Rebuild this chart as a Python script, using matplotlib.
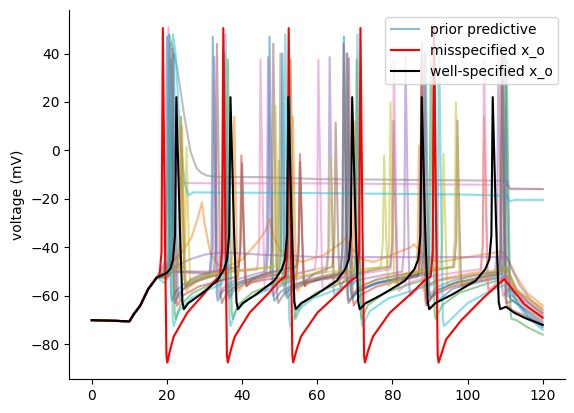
import matplotlib
matplotlib.use("Agg")
import matplotlib.pyplot as plt

# common start of every trace: rest, then current step at 10 ms
onset_t = [0, 10, 11.2, 12.9, 15, 17.3]
onset_v = [-70.0, -70.5, -67.5, -64.0, -57.2, -52.4]

# recovery shapes (fraction of inter-spike time, fraction of trough->pre rise)
shape_fast = [(0.05, 0.14), (0.12, 0.30), (0.38, 0.58), (0.70, 0.80), (0.90, 0.95)]
shape_slow = [(0.10, 0.12), (0.39, 0.30), (0.77, 0.57), (0.93, 0.80)]
shape_prior = [(0.10, 0.35), (0.35, 0.65), (0.70, 0.85), (0.90, 0.95)]

# misspecified x_o
red_spikes = [18.9, 35.0, 52.4, 71.5, 91.1]
red_tail_t = [94.3, 98.2, 104.3, 109.8, 115.1, 120]
red_tail_v = [-78.0, -70.3, -60.7, -53.1, -63.4, -69.0]

# well-specified x_o
black_spikes = [22.5, 36.9, 52.3, 69.3, 87.8, 106.7]
black_start_t = [18.6, 20, 21.0]
black_start_v = [-51.5, -50.5, -48.5]
black_tail_t = [110.2, 112.5, 115.1, 120]
black_tail_v = [-64.5, -67.0, -69.0, -72.0]

# prior predictive samples: spiking ones
blue_spikes = [20.0, 32.2, 47.3, 67.1, 91.0]
blue_tail = ([96, 104, 110.5, 113, 116, 120], [-57, -54, -52, -62, -68, -73])

green_spikes = [21.0, 36.2, 52.9, 70.5, 90.2, 110.4]
green_tail = ([113, 116, 120], [-70, -73, -76])

red_p_spikes = [21.4, 39.8, 55.4, 68.4, 87.7, 109.3]
red_p_peaks = [42, -2, -1.5, 38, 38, 40]
red_p_troughs = [-64, -56, -56, -64, -64, -64]
red_p_tail = ([112, 115, 120], [-66, -68, -72])

purple_spikes = [32.6, 46.9, 63.3, 83.5, 108.2]
purple_start = ([21, 26, 30.5], [-50, -50.5, -51])
purple_tail = ([111, 115, 120], [-57, -62, -67])

brown_spikes = [20.8, 33.3, 48.3, 67.0, 87.9, 109.0]
brown_tail = ([112, 116, 120], [-62, -66, -71])

olive_spikes = [25.2, 49.8, 63.6, 77.8, 93.6]
olive_peaks = [1.3, -4.2, -2.8, -2.1, -1.4]
olive_start = ([20, 23.5], [-49, -48.5])
olive_tail = ([100, 110.5, 113, 116, 120], [-52, -48, -57, -62, -67])

blue2_spikes = [21.8, 35.3, 50.7, 68.0, 88.8, 110.0]
blue2_tail = ([113, 120], [-63, -72])

orange2_spikes = [24.0, 37.9, 53.5, 70.0, 87.1, 104.4]
orange2_peaks = [10, 14, 14, 12, 2, 13.7]
orange2_start = ([21], [-50])
orange2_tail = ([110.5, 113, 120], [-52, -58, -65])

brown2_spikes = [23.7, 40.0, 55.4, 64.9, 80.3, 97.3]
brown2_peaks = [13.7, -5.3, -4.9, 11.5, 12.3, 12.3]
brown2_start = ([21], [-50])
brown2_tail = ([104, 110.5, 113, 120], [-52, -49, -58, -68])

pink2_spikes = [44.9, 60.3, 80.4, 104.4]
pink2_start = ([21, 28, 36, 42], [-50, -50, -49.5, -49.5])
pink2_tail = ([108, 110.5, 113, 120], [-54, -52, -59, -67])

olive2_spikes = [23.7, 48.9, 79.5, 96.9]
olive2_peaks = [14, 18.5, 19.8, 19.8]
olive2_start = ([21], [-50])
olive2_tail = ([104, 110.5, 113, 120], [-52, -49, -57, -66])

cyan2_spikes = [20.5, 35.6, 51.5, 70.7, 92.4]
cyan2_tail = ([100, 106, 110.5, 113, 116, 120], [-63, -58, -55, -63, -69, -74])

gray2_spikes = [35.0, 50.2, 67.8, 88.5, 109.3]
gray2_start = ([21, 27, 32], [-50, -50, -50.5])
gray2_tail = ([112, 116, 120], [-60, -65, -70])

# prior predictive samples: non-repetitive ones
orange_t = [20, 24, 26.5, 28.2, 29.3, 30.0, 31.5, 33.5, 36, 40, 44, 46.3, 47.4, 48.3, 50,
            52, 56, 62, 66.5, 67.5, 69, 72, 75, 80, 84.8, 85.8, 87.5, 90, 93, 100, 107.9,
            108.9, 110.5, 113, 116, 120]
orange_v = [-48, -42, -36, -28, -21.4, -30, -42, -47, -48, -45, -38, -33, -28.3, -35, -41,
            -44, -46, -43, -38, -36, -40, -45, -46, -43, -40, -38.7, -42, -45, -46, -44, -42,
            -41.4, -44, -52, -59, -64]

pink_t = [19.6, 20.1, 20.4, 21.0, 22.0, 23.5, 25, 60, 110.5, 111.2, 120]
pink_v = [-45, 0, 51, 20, -5, -12, -13.5, -13.6, -14.2, -16.0, -16.0]

gray_t = [19.5, 20.3, 20.7, 21.5, 22.7, 24.4, 26.2, 27.2, 28, 29.2, 30.7, 33, 45, 60,
          110.5, 111.2, 120]
gray_v = [-47, 0, 47.6, 42, 34.3, 16.4, 0, -4.5, -7.6, -9.3, -10.4, -10.9, -11, -11.8,
          -12.5, -15.7, -15.9]

cyan_t = [20.6, 21.2, 21.6, 22.3, 23.5, 24.8, 25.7, 27, 60, 100, 110.5, 111.2, 112.5, 120]
cyan_v = [-48, 0, 48, 40, 5, -14, -18.5, -17.3, -17.6, -18.2, -18.7, -21, -20.4, -20.4]

purple2_t = [18, 22, 26, 30, 35, 45, 60, 110.5, 111.5, 114, 117, 120]
purple2_v = [-52, -48, -45, -43, -42, -43, -44, -44, -48, -56, -62, -66]


def _as_list(x, n):
    return list(x) if isinstance(x, (list, tuple)) else [x] * n


def spike_train(spikes, peaks, troughs, pre, lag, shape, start, tail):
    t = list(onset_t) + list(start[0])
    v = list(onset_v) + list(start[1])
    peaks = _as_list(peaks, len(spikes))
    troughs = _as_list(troughs, len(spikes))
    for i, ts in enumerate(spikes):
        pk, tr = peaks[i], troughs[i]
        t += [ts - 0.9, ts - 0.35, ts, ts + 0.45 * lag, ts + 0.8 * lag, ts + lag]
        v += [pre, pre + 10, pk, pk - 0.6 * (pk - tr), tr + 3, tr]
        if i + 1 < len(spikes):
            t0, t1 = ts + lag, spikes[i + 1] - 0.9
            for ft, fv in shape:
                t.append(t0 + ft * (t1 - t0))
                v.append(tr + fv * (pre - tr))
    t += list(tail[0])
    v += list(tail[1])
    return t, v


def explicit(tt, vv):
    return list(onset_t) + list(tt), list(onset_v) + list(vv)


NONE = ([], [])
prior = [
    ("tab:blue", spike_train(blue_spikes, 47, -62, -51, 1.3, shape_prior, NONE, blue_tail)),
    ("tab:orange", explicit(orange_t, orange_v)),
    ("tab:green", spike_train(green_spikes, 37.5, -69.5, -53, 1.3, shape_prior, NONE, green_tail)),
    ("tab:red", spike_train(red_p_spikes, red_p_peaks, red_p_troughs, -52, 1.3, shape_prior, NONE, red_p_tail)),
    ("tab:purple", spike_train(purple_spikes, 38.5, -60, -50, 1.3, shape_prior, purple_start, purple_tail)),
    ("tab:brown", spike_train(brown_spikes, 44, -63, -51, 1.3, shape_prior, NONE, brown_tail)),
    ("tab:pink", explicit(pink_t, pink_v)),
    ("tab:gray", explicit(gray_t, gray_v)),
    ("tab:olive", spike_train(olive_spikes, olive_peaks, -56, -48, 1.2, shape_prior, olive_start, olive_tail)),
    ("tab:cyan", explicit(cyan_t, cyan_v)),
    ("tab:blue", spike_train(blue2_spikes, 40, -61, -51, 1.3, shape_prior, NONE, blue2_tail)),
    ("tab:orange", spike_train(orange2_spikes, orange2_peaks, -58, -50, 1.2, shape_prior, orange2_start, orange2_tail)),
    ("tab:purple", explicit(purple2_t, purple2_v)),
    ("tab:brown", spike_train(brown2_spikes, brown2_peaks, -56, -48, 1.2, shape_prior, brown2_start, brown2_tail)),
    ("tab:pink", spike_train(pink2_spikes, 37.4, -58, -49, 1.3, shape_prior, pink2_start, pink2_tail)),
    ("tab:gray", spike_train(gray2_spikes, 40, -60, -50, 1.3, shape_prior, gray2_start, gray2_tail)),
    ("tab:olive", spike_train(olive2_spikes, olive2_peaks, -55, -48, 1.2, shape_prior, olive2_start, olive2_tail)),
    ("tab:cyan", spike_train(cyan2_spikes, 48, -72.5, -55, 1.3, shape_prior, NONE, cyan2_tail)),
]

red_t, red_v = spike_train(red_spikes, 50.5, -87.5, -52, 1.2, shape_fast, NONE,
                           (red_tail_t, red_tail_v))
black_t, black_v = spike_train(black_spikes, 22, -65.5, -45, 2.0, shape_slow,
                               (black_start_t, black_start_v), (black_tail_t, black_tail_v))

fig = plt.figure(figsize=(5.74, 4.13), dpi=100)
ax = fig.add_axes([0.1207, 0.0816, 0.864, 0.894])

for i, (col, (t, v)) in enumerate(prior):
    ax.plot(t, v, color=col, alpha=0.5, label="prior predictive" if i == 0 else None)
ax.plot(red_t, red_v, color="r", label="misspecified x_o")
ax.plot(black_t, black_v, color="k", label="well-specified x_o")

ax.set_ylabel("voltage (mV)")
ax.spines["top"].set_visible(False)
ax.spines["right"].set_visible(False)
ax.legend(loc="upper right")

fig.savefig("out.png", dpi=100)
